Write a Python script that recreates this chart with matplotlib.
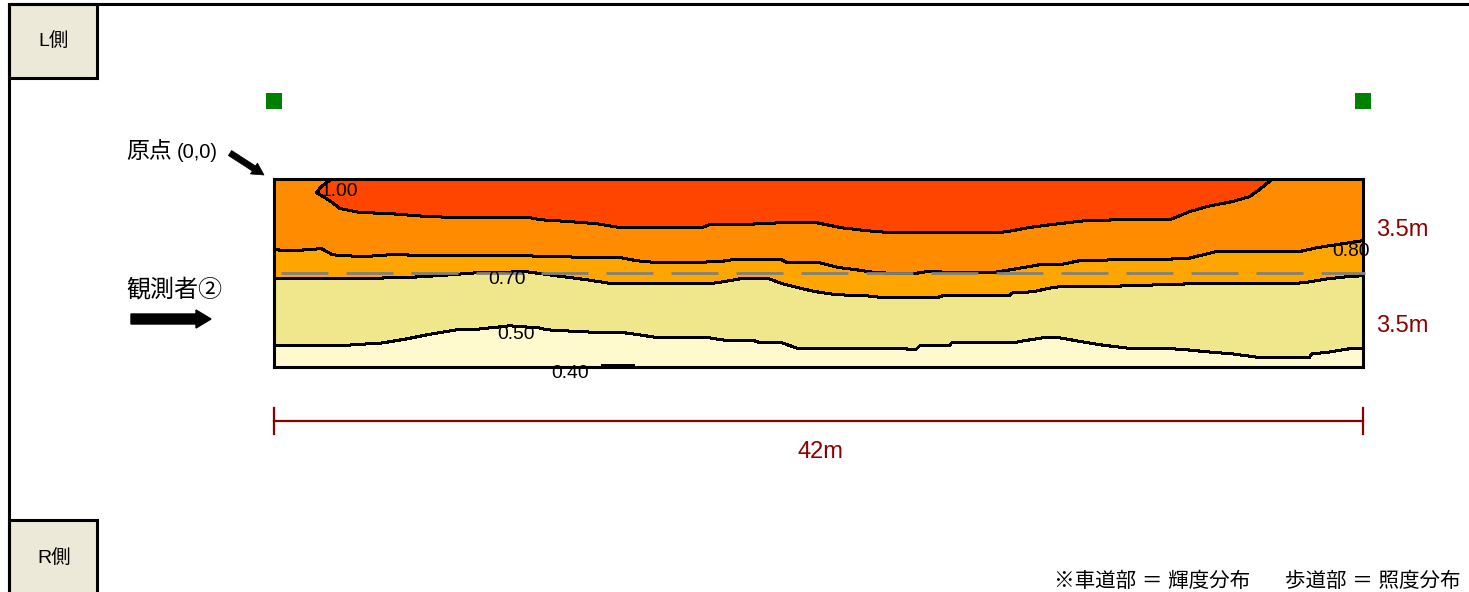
import matplotlib
matplotlib.use('Agg')
import matplotlib.pyplot as plt
import numpy as np

plt.rcParams['font.family'] = ['Liberation Sans', 'Noto Sans CJK JP', 'DejaVu Sans']
plt.rcParams['lines.scale_dashes'] = False

# contour lines on the road, metres from the origin (top left)
x_100 = [2.22, 1.83, 1.64, 1.95, 2.26, 2.53, 3.30, 4.45, 5.88, 7.15, 9.85, 10.24, 11.40, 12.44, 13.40, 14.87,
         16.49, 16.80, 18.07, 19.61, 20.92, 21.89, 22.85, 23.74, 24.24, 27.98, 28.48, 29.06, 29.99, 31.34,
         32.73, 34.54, 35.31, 35.97, 36.97, 37.62, 38.01, 38.51]
y_100 = [0.00, 0.28, 0.51, 0.69, 0.88, 1.10, 1.25, 1.29, 1.40, 1.44, 1.44, 1.52, 1.59, 1.67, 1.82, 1.82,
         1.82, 1.70, 1.70, 1.63, 1.63, 1.82, 1.93, 2.00, 2.00, 2.00, 1.93, 1.82, 1.70, 1.55,
         1.52, 1.52, 1.22, 1.03, 0.84, 0.66, 0.39, 0.00]

x_80 = [0.00, 0.71, 1.83, 2.26, 3.41, 4.45, 7.42, 9.58, 10.63, 13.40, 13.98, 14.87, 17.18, 17.68, 19.57, 19.81,
        21.04, 21.81, 22.47, 23.24, 24.63, 25.17, 27.10, 27.71, 28.64, 29.53, 30.30, 31.07, 32.73, 35.20,
        35.70, 36.35, 39.55, 40.25, 40.98, 42.00]
y_80 = [2.64, 2.68, 2.60, 2.83, 2.90, 2.83, 2.86, 2.86, 2.90, 2.94, 3.05, 3.13, 3.09, 3.01, 3.01, 3.13,
        3.13, 3.31, 3.39, 3.50, 3.54, 3.46, 3.50, 3.50, 3.35, 3.20, 3.20, 3.05, 3.01, 2.98,
        2.86, 2.71, 2.71, 2.56, 2.45, 2.30]

x_70 = [0.00, 4.96, 6.77, 7.81, 9.74, 10.63, 12.05, 13.06, 14.87, 16.80, 17.30, 17.95, 19.11, 19.61, 20.38, 20.92,
        21.70, 22.85, 23.62, 25.55, 25.78, 28.37, 28.48, 29.26, 29.99, 30.30, 31.84, 35.43, 39.28, 39.94,
        40.60, 41.37, 42.00]
y_70 = [3.73, 3.69, 3.58, 3.50, 3.46, 3.58, 3.76, 3.91, 3.91, 3.91, 3.84, 3.73, 3.73, 3.91, 4.10, 4.21,
        4.32, 4.36, 4.44, 4.44, 4.36, 4.36, 4.25, 4.21, 4.06, 4.02, 4.02, 3.91, 3.91, 3.84,
        3.73, 3.65, 3.61]

x_50 = [0.00, 1.25, 2.91, 4.18, 5.11, 5.88, 7.04, 7.93, 9.08, 10.24, 10.51, 12.05, 13.60, 14.87, 16.80, 17.30,
        18.61, 18.73, 19.61, 20.15, 24.78, 24.90, 26.05, 26.13, 28.48, 28.87, 29.64, 30.30, 31.18, 31.95,
        32.88, 34.93, 36.08, 36.97, 37.90, 39.94, 40.02, 40.71, 41.37, 42.00]
y_50 = [6.23, 6.20, 6.20, 6.12, 5.97, 5.82, 5.63, 5.60, 5.48, 5.56, 5.63, 5.71, 5.75, 5.93, 5.93, 6.01,
        6.05, 6.12, 6.12, 6.31, 6.35, 6.23, 6.23, 6.12, 6.12, 6.05, 5.93, 5.93, 6.08, 6.20,
        6.31, 6.35, 6.46, 6.53, 6.65, 6.65, 6.53, 6.46, 6.35, 6.31]

x_40 = [12.67, 13.83]
y_40 = [6.97, 6.97]

# lamp positions
pole_x = [0, 42]
pole_y = [-2.93, -2.93]

road_len = 42
road_width = 7
center_y = 3.5

W, H = 1469, 592
fig = plt.figure(figsize=(W / 100, H / 100), dpi=100, facecolor='white')

# --- page furniture, in pixels ---
page = fig.add_axes([0, 0, 1, 1])
page.set_xlim(0, W)
page.set_ylim(H, 0)
page.axis('off')

page.plot([9.5, 9.5, W], [H, 3.5, 3.5], color='black', lw=2.2, solid_joinstyle='miter')
for top_y, bottom_y in [(3.5, 77.5), (519.5, H + 5)]:
    page.fill([9.5, 97.5, 97.5, 9.5], [top_y, top_y, bottom_y, bottom_y], facecolor='#ECE9D8', edgecolor='black', lw=2.2)
page.text(54, 41, 'L側', fontsize=14, ha='center', va='center')
page.text(54, 558, 'R側', fontsize=14, ha='center', va='center')

page.text(126, 151, '原点', fontsize=16.5, ha='left', va='center')
page.text(177, 153, '(0,0)', fontsize=14.5, ha='left', va='center')
page.arrow(230, 153, 34, 22, width=6, head_width=13, head_length=12,
           length_includes_head=True, color='black', lw=0.5)
page.text(126, 290, '観測者②', fontsize=17.3, ha='left', va='center')
page.arrow(131, 319, 80, 0, width=10, head_width=18, head_length=15,
           length_includes_head=True, color='black', lw=1)

page.text(1402, 229.5, '3.5m', fontsize=17, color='darkred', ha='center', va='center')
page.text(1402, 325.5, '3.5m', fontsize=17, color='darkred', ha='center', va='center')
page.text(820, 451.5, '42m', fontsize=17, color='darkred', ha='center', va='center')
page.text(1054, 581, '※車道部 ＝ 輝度分布', fontsize=14.8, ha='left', va='center')
page.text(1461, 581, '歩道部 ＝ 照度分布', fontsize=14.8, ha='right', va='center')

# --- road ---
ax = fig.add_axes([274 / W, 1 - 366.5 / H, (1363 - 274) / W, (366.5 - 179) / H])
ax.set_xlim(0, road_len)
ax.set_ylim(road_width, 0)
ax.set_xticks([])
ax.set_yticks([])
ax.set_facecolor('darkorange')
for s in ax.spines.values():
    s.set_linewidth(2.2)

ax.fill_between(x_80, y_80, road_width, color='orange', lw=0)
ax.fill_between(x_70, y_70, road_width, color='khaki', lw=0)
ax.fill_between(x_50, y_50, road_width, color='lemonchiffon', lw=0)
ax.fill(x_100, y_100, color='orangered', lw=0)

for xs, ys in [(x_100, y_100), (x_80, y_80), (x_70, y_70), (x_50, y_50), (x_40, y_40)]:
    ax.plot(xs, ys, color='black', lw=1.45, antialiased=False)

# centre line
ax.plot([0.28, road_len + 0.08], [center_y, center_y], color='gray', lw=2.0, clip_on=False,
        dashes=(33.8, 13), dash_capstyle='butt', zorder=5)

# lamps
ax.plot(pole_x, pole_y, 's', color='green', ms=12, mew=0, clip_on=False)

# dimension line under the road
ax.plot([0, road_len], [9.03, 9.03], color='darkred', lw=1.6, clip_on=False)
ax.plot([0, 0], [8.55, 9.52], color='darkred', lw=1.6, clip_on=False)
ax.plot([road_len, road_len], [8.55, 9.52], color='darkred', lw=1.6, clip_on=False)

# contour labels go on top of everything
top = fig.add_axes([0, 0, 1, 1])
top.set_xlim(0, W)
top.set_ylim(H, 0)
top.axis('off')
for px, py, lab in [(339, 192, '1.00'), (1351, 251, '0.80'), (507, 280, '0.70'), (516, 334.5, '0.50'), (570, 374, '0.40')]:
    top.text(px, py, lab, fontsize=13.9, ha='center', va='center')

fig.savefig('out.png', dpi=100)
